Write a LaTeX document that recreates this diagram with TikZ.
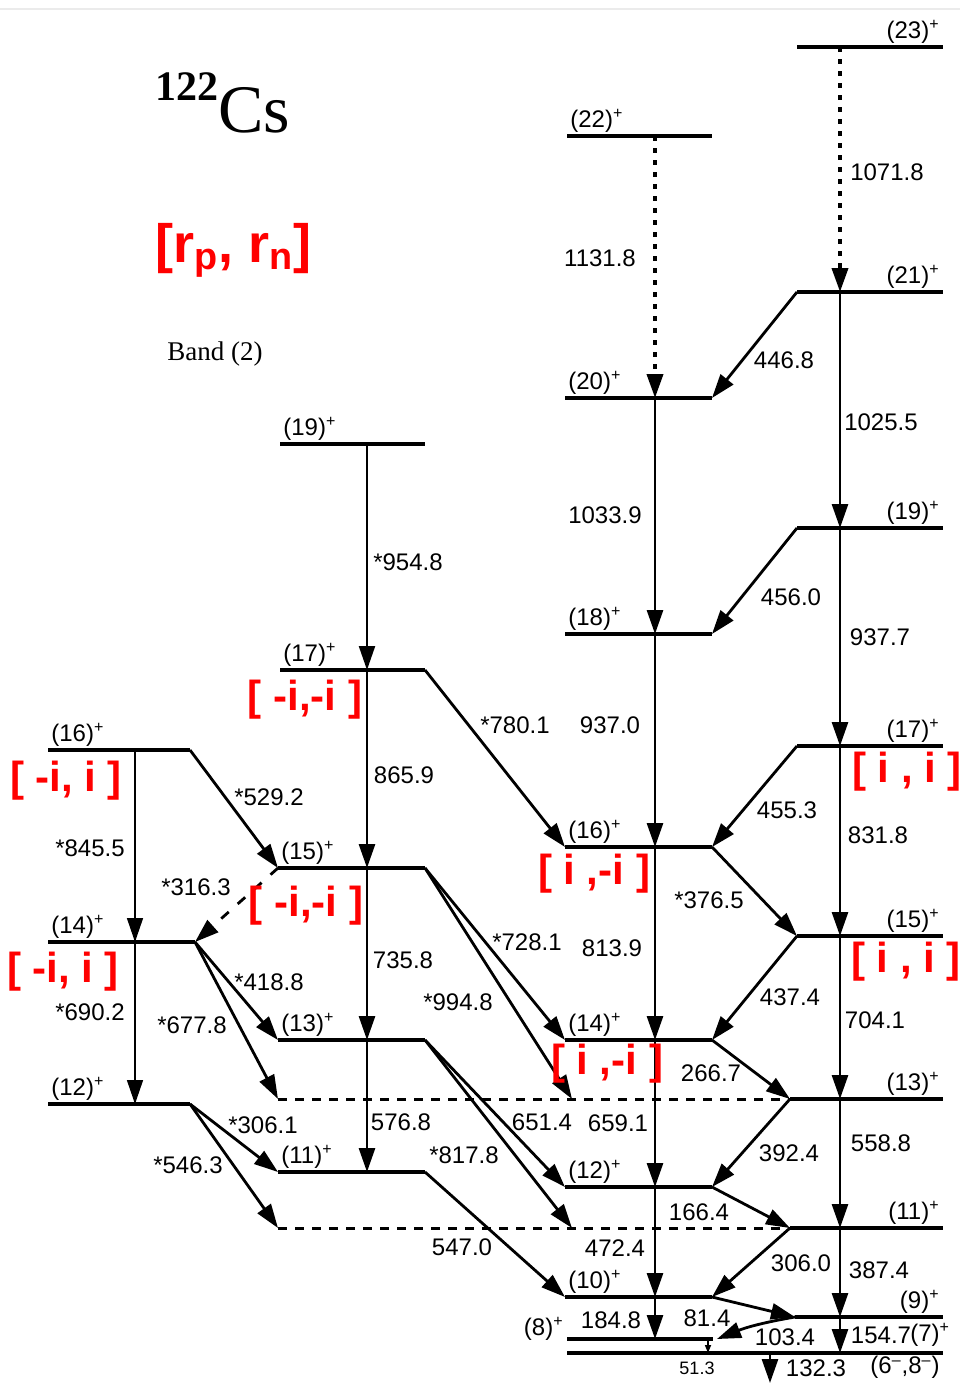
\documentclass[tikz,border=0pt]{standalone}
\usepackage{fontspec}
\setmainfont{Liberation Serif}
\newfontfamily\arial{Liberation Sans}
\usepackage{tikz}
\usetikzlibrary{arrows.meta, calc}

% level line: [style]{name}{x left}{x right}{y}
\newcommand{\lvl}[5][lev]{%
  \coordinate (#2l) at (#3,#5); \coordinate (#2r) at (#4,#5);
  \draw[#1] (#2l) -- (#2r);}

\begin{document}
\begin{tikzpicture}[x=0.5pt, y=-0.5pt, >={Triangle[length=12pt,width=8pt]},
  lev/.style={line width=1.8pt},
  dlev/.style={line width=1.5pt, dash pattern=on 4.5pt off 4pt},
  gam/.style={->, line width=1.4pt},
  wgam/.style={->, line width=0.8pt},
  dgam/.style={->, line width=1.9pt, dash pattern=on 2.5pt off 3.5pt},
  lab/.style={font=\arial\fontsize{12}{14}\selectfont, inner sep=1pt},
  spin/.style={font=\arial\fontsize{12}{14}\selectfont, inner sep=1.5pt},
  sig/.style={text=red, font=\arial\bfseries\fontsize{21}{22}\selectfont, inner sep=0pt}]
  \useasboundingbox (0,0) rectangle (960,1383);
  \draw[black!8, line width=1pt] (0,9) -- (960,9);

  % columns
  \coordinate (xA) at (135,0);
  \coordinate (xB) at (367,0);
  \coordinate (xC) at (655,0);
  \coordinate (xD) at (840,0);

  % levels
  \lvl{A16}{48}{190}{750}
  \lvl{A14}{48}{195}{942}
  \lvl{A12}{48}{190}{1104}
  \lvl{B19}{280}{425}{444}
  \lvl{B17}{280}{425}{670}
  \lvl{B15}{278}{425}{868}
  \lvl{B13}{278}{425}{1040}
  \lvl{B11}{278}{425}{1172}
  \lvl[dlev]{Bd1}{278}{790}{1099}
  \lvl[dlev]{Bd2}{278}{790}{1228}
  \lvl{C22}{567}{712}{136}
  \lvl{C20}{565}{712}{398}
  \lvl{C18}{565}{712}{634}
  \lvl{C16}{565}{712}{847}
  \lvl{C14}{565}{712}{1040}
  \lvl{C12}{565}{712}{1187}
  \lvl{C10}{565}{712}{1297}
  \lvl{C8}{567}{713}{1339}
  \lvl{G}{567}{943}{1353}
  \lvl{D23}{797}{943}{47}
  \lvl{D21}{797}{943}{292}
  \lvl{D19}{797}{943}{528}
  \lvl{D17}{797}{943}{746}
  \lvl{D15}{797}{943}{936}
  \lvl{D13}{790}{943}{1099}
  \lvl{D11}{790}{943}{1228}
  \lvl{D9}{795}{943}{1317}
  \coordinate (Bd1c) at (572,1099);
  \coordinate (Bd2c) at (572,1228);
  \coordinate (C8t) at (717,1339);
  \coordinate (x51) at (708,0);
  \coordinate (x132) at (770,0);
  \coordinate (bot) at (770,1383);

  % in-band transitions
  \draw[wgam] (A16l -| xA) -- (A14l -| xA);
  \draw[wgam] (A14l -| xA) -- (A12l -| xA);
  \draw[gam, line width=1.1pt] (B19l -| xB) -- (B17l -| xB);
  \draw[gam] (B17l -| xB) -- (B15l -| xB);
  \draw[gam] (B15l -| xB) -- (B13l -| xB);
  \draw[gam] (B13l -| xB) -- (B11l -| xB);
  \draw[dgam] (C22l -| xC) -- (C20l -| xC);
  \draw[gam] (C20l -| xC) -- (C18l -| xC);
  \draw[gam] (C18l -| xC) -- (C16l -| xC);
  \draw[gam] (C16l -| xC) -- (C14l -| xC);
  \draw[gam] (C14l -| xC) -- (C12l -| xC);
  \draw[gam] (C12l -| xC) -- (C10l -| xC);
  \draw[gam] (C10l -| xC) -- (C8l -| xC);
  \draw[dgam] (D23l -| xD) -- (D21l -| xD);
  \draw[gam] (D21l -| xD) -- (D19l -| xD);
  \draw[gam] (D19l -| xD) -- (D17l -| xD);
  \draw[gam] (D17l -| xD) -- (D15l -| xD);
  \draw[gam] (D15l -| xD) -- (D13l -| xD);
  \draw[gam] (D13l -| xD) -- (D11l -| xD);
  \draw[gam] (D11l -| xD) -- (D9l -| xD);
  \draw[gam] (D9l -| xD) -- (Gl -| xD);
  \draw[wgam, >={Triangle[length=4pt,width=3pt]}] (C8l -| x51) -- (Gl -| x51);
  \draw[gam] (Gl -| x132) -- (bot);

  % linking transitions
  \draw[gam] (D21l) -- (C20r);
  \draw[gam] (D19l) -- (C18r);
  \draw[gam] (D17l) -- (C16r);
  \draw[gam] (C16r) -- (D15l);
  \draw[gam] (D15l) -- (C14r);
  \draw[gam] (C14r) -- (D13l);
  \draw[gam] (D13l) -- (C12r);
  \draw[gam] (C12r) -- (D11l);
  \draw[gam] (D11l) -- (C10r);
  \draw[gam] (C10r) -- (D9l);
  \draw[gam] (D9l) to[bend right=6] (C8t);
  \draw[gam] (B17r) -- (C16l);
  \draw[gam] (B15r) -- (C14l);
  \draw[gam] (B15r) -- (Bd1c);
  \draw[gam] (B13r) -- (C12l);
  \draw[gam] (B13r) -- (Bd2c);
  \draw[gam] (B11r) -- (C10l);
  \draw[gam] (A16r) -- (B15l);
  \draw[gam, dash pattern=on 5pt off 6pt] (B15l) -- (A14r);
  \draw[gam] (A14r) -- (B13l);
  \draw[gam] (A14r) -- (Bd1l);
  \draw[gam] (A12r) -- (B11l);
  \draw[gam] (A12r) -- (Bd2l);

  % energies
  \foreach \x/\y/\t [count=\i] in {600/258/1131.8, 887/172/1071.8, 784/360/446.8,
      881/422/1025.5, 605/515/1033.9, 791/597/456.0, 880/637/937.7, 610/725/937.0,
      787/810/455.3, 878/835/831.8, 709/900/*376.5, 612/948/813.9, 790/997/437.4,
      875/1020/704.1, 711/1073/266.7, 618/1123/659.1, 789/1153/392.4, 881/1143/558.8,
      699/1212/166.4, 615/1248/472.4, 801/1263/306.0, 879/1270/387.4, 611/1320/184.8,
      707/1318/81.4, 785/1337/103.4, 881/1335/154.7, 816/1368/132.3,
      527/942/*728.1, 403/960/735.8, 458/1002/*994.8, 401/1122/576.8, 542/1122/651.4,
      464/1155/*817.8, 462/1247/547.0, 269/797/*529.2, 90/848/*845.5, 196/887/*316.3,
      269/982/*418.8, 90/1012/*690.2, 192/1025/*677.8, 263/1125/*306.1, 188/1165/*546.3,
      408/562/*954.8, 515/725/*780.1, 404/775/865.9}
    \node[lab] (e\i) at (\x,\y) {\t};
  \node[lab, font=\arial\fontsize{9}{10}\selectfont] (e513) at (697,1368) {51.3};

  % spins
  \node[spin, above right] (sA16) at (A16l) {(16)\textsuperscript{+}};
  \node[spin, above right] (sA14) at (A14l) {(14)\textsuperscript{+}};
  \node[spin, above right] (sA12) at (A12l) {(12)\textsuperscript{+}};
  \node[spin, above right] (sB19) at (B19l) {(19)\textsuperscript{+}};
  \node[spin, above right] (sB17) at (B17l) {(17)\textsuperscript{+}};
  \node[spin, above right] (sB15) at (B15l) {(15)\textsuperscript{+}};
  \node[spin, above right] (sB13) at (B13l) {(13)\textsuperscript{+}};
  \node[spin, above right] (sB11) at (B11l) {(11)\textsuperscript{+}};
  \node[spin, above right] (sC22) at (C22l) {(22)\textsuperscript{+}};
  \node[spin, above right] (sC20) at (C20l) {(20)\textsuperscript{+}};
  \node[spin, above right] (sC18) at (C18l) {(18)\textsuperscript{+}};
  \node[spin, above right] (sC16) at (C16l) {(16)\textsuperscript{+}};
  \node[spin, above right] (sC14) at (C14l) {(14)\textsuperscript{+}};
  \node[spin, above right] (sC12) at (C12l) {(12)\textsuperscript{+}};
  \node[spin, above right] (sC10) at (C10l) {(10)\textsuperscript{+}};
  \node[spin, anchor=east] (sC8) at (567,1329) {(8)\textsuperscript{+}};
  \node[spin, above left] (sD23) at (D23r) {(23)\textsuperscript{+}};
  \node[spin, above left] (sD21) at (D21r) {(21)\textsuperscript{+}};
  \node[spin, above left] (sD19) at (D19r) {(19)\textsuperscript{+}};
  \node[spin, above left] (sD17) at (D17r) {(17)\textsuperscript{+}};
  \node[spin, above left] (sD15) at (D15r) {(15)\textsuperscript{+}};
  \node[spin, above left] (sD13) at (D13r) {(13)\textsuperscript{+}};
  \node[spin, above left] (sD11) at (D11r) {(11)\textsuperscript{+}};
  \node[spin, above left] (sD9) at (D9r) {(9)\textsuperscript{+}};
  \node[spin, anchor=west, inner sep=0pt] (sD7) at (910,1335) {(7)\textsuperscript{+}};
  \node[spin, below left] (sG) at (Gr) {(6\textsuperscript{\textendash},8\textsuperscript{\textendash})};

  % signatures
  \node[sig] (rA16) at (66,781) {[ -i, i ]};
  \node[sig] (rA14) at (63,972) {[ -i, i ]};
  \node[sig] (rB17) at (305,700) {[ -i,-i ]};
  \node[sig] (rB15) at (306,906) {[ -i,-i ]};
  \node[sig] (rC16) at (594,874) {[ i ,-i ]};
  \node[sig] (rC14) at (607,1064) {[ i ,-i ]};
  \node[sig] (rD17) at (907,772) {[ i , i ]};
  \node[sig] (rD15) at (906,962) {[ i , i ]};

  % titles
  \node[anchor=base west, inner sep=0pt] (nuc) at (155,132)
    {\fontsize{34}{36}\selectfont\raisebox{16pt}{\fontsize{21}{21}\selectfont\bfseries 122}Cs};
  \node[anchor=base west, inner sep=0pt, text=red] (rprn) at (155,262)
    {\arial\bfseries\fontsize{27}{30}\selectfont [r\textsubscript{p}, r\textsubscript{n}]};
  \node[anchor=base west, inner sep=0pt] (band) at (167,360)
    {\fontsize{13.5}{15}\selectfont Band (2)};
\end{tikzpicture}
\end{document}
